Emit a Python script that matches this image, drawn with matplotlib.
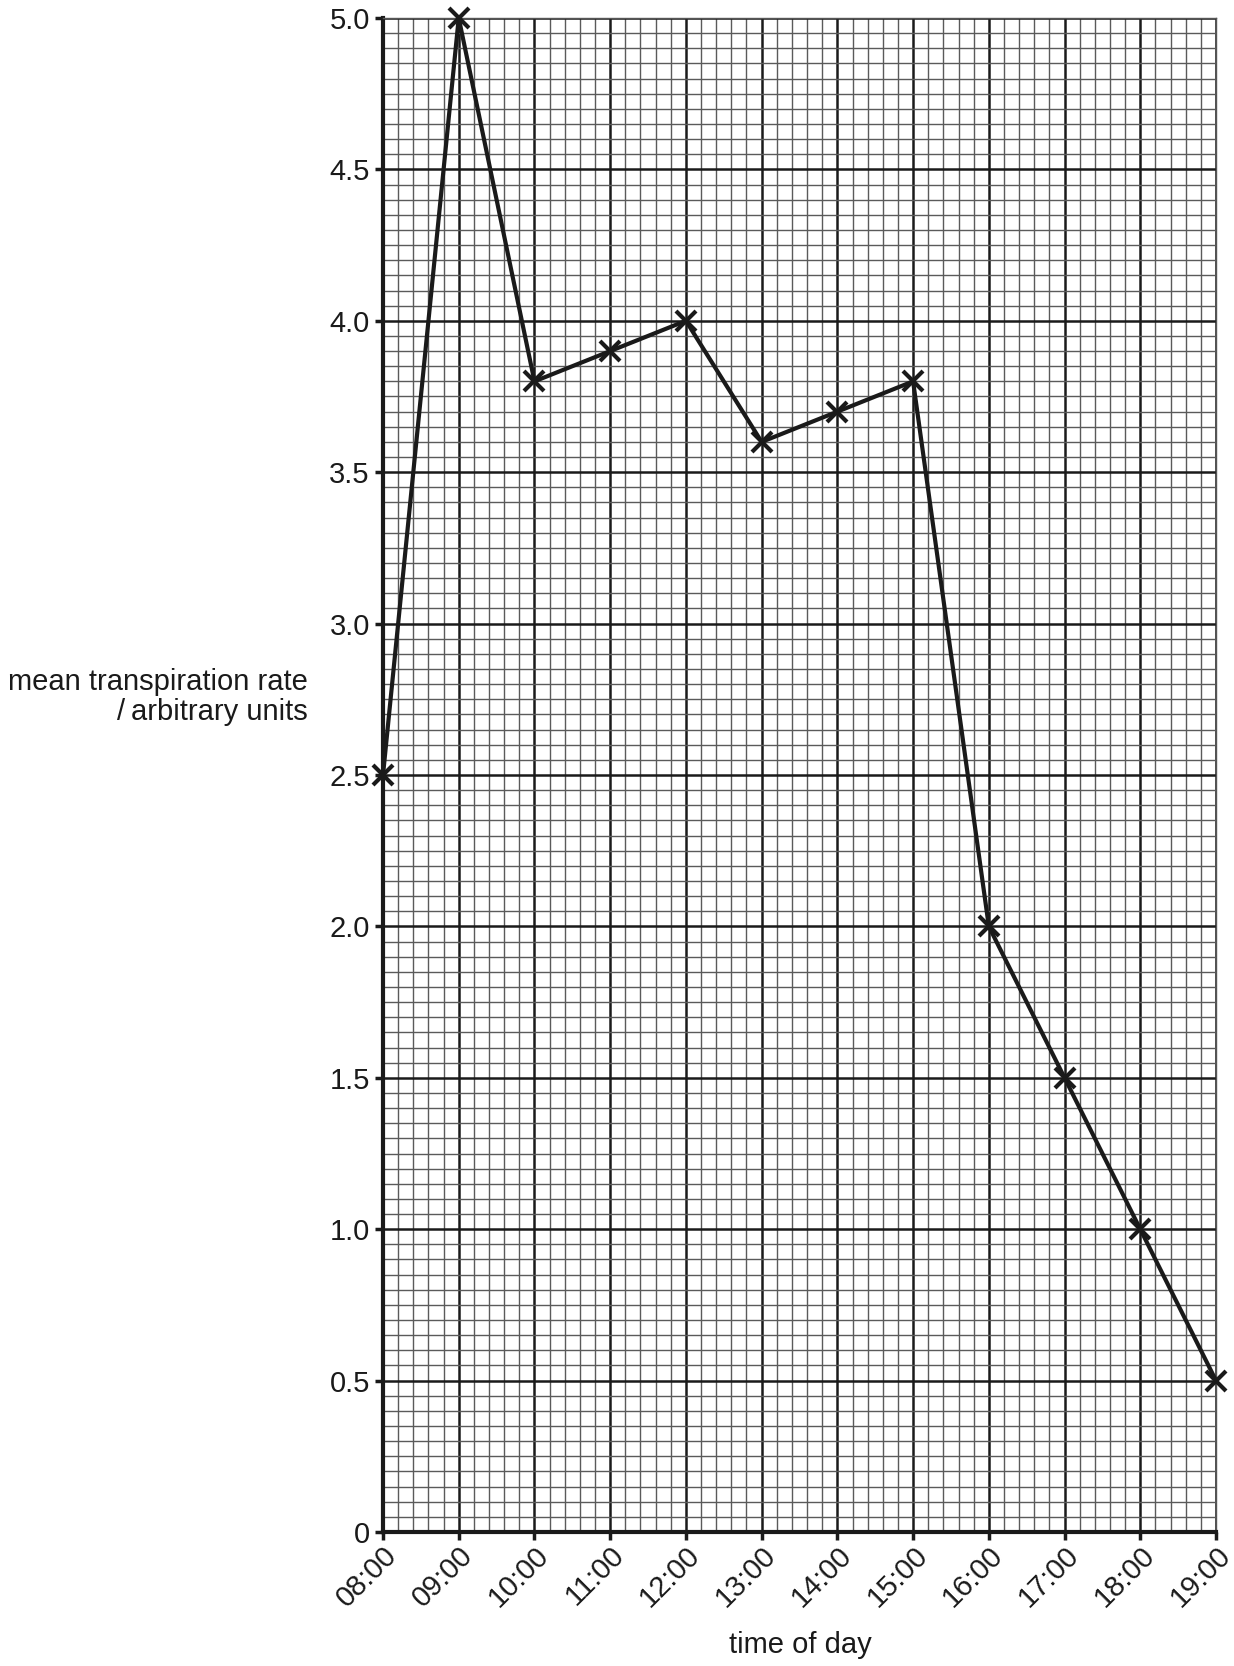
import matplotlib
matplotlib.use("Agg")
import matplotlib.pyplot as plt
from matplotlib.ticker import MultipleLocator

plt.rcParams['font.family'] = ['Liberation Sans', 'DejaVu Sans']

# hours of day and readings
hours = [8, 9, 10, 11, 12, 13, 14, 15, 16, 17, 18, 19]
hour_labels = ["08:00", "09:00", "10:00", "11:00", "12:00", "13:00",
               "14:00", "15:00", "16:00", "17:00", "18:00", "19:00"]
rate = [2.5, 5.0, 3.8, 3.9, 4.0, 3.6, 3.7, 3.8, 2.0, 1.5, 1.0, 0.5]
y_ticks = [0, 0.5, 1.0, 1.5, 2.0, 2.5, 3.0, 3.5, 4.0, 4.5, 5.0]
y_labels = ["0", "0.5", "1.0", "1.5", "2.0", "2.5", "3.0", "3.5", "4.0", "4.5", "5.0"]

fs = 21

fig = plt.figure(figsize=(12.34, 16.66), dpi=100)
ax = fig.add_axes([383 / 1234, 1 - 1532 / 1666, (1216 - 383) / 1234, (1532 - 18) / 1666])

ax.set_xlim(8, 19)
ax.set_ylim(0, 5)

# graph paper grid
ax.xaxis.set_minor_locator(MultipleLocator(0.2))
ax.yaxis.set_minor_locator(MultipleLocator(0.05))
ax.grid(which='minor', color='#5a5a5a', linewidth=1.0)
ax.grid(which='major', color='#1a1a1a', linewidth=1.8)
ax.set_axisbelow(True)

ax.plot(hours, rate, color='#1a1a1a', linewidth=3, marker='x',
        markersize=14, markeredgewidth=3, clip_on=False, zorder=5)

ax.set_xticks(hours)
ax.set_xticklabels(hour_labels, rotation=45, ha='right', va='top',
                   rotation_mode='anchor')
ax.set_yticks(y_ticks)
ax.set_yticklabels(y_labels)

ax.tick_params(which='major', direction='out', length=5.5, width=2.5,
               labelsize=fs, color='#1a1a1a', labelcolor='#1a1a1a')
ax.tick_params(axis='y', pad=4)
ax.tick_params(axis='x', pad=1)
ax.tick_params(which='minor', length=0)

for side in ['left', 'bottom']:
    ax.spines[side].set_linewidth(3)
    ax.spines[side].set_color('#1a1a1a')
for side in ['right', 'top']:
    ax.spines[side].set_linewidth(1)
    ax.spines[side].set_color('#555555')

fig.text(308 / 1234, 1 - 690 / 1666, "mean transpiration rate",
         ha='right', va='baseline', fontsize=fs, color='#1a1a1a')
fig.text(308 / 1234, 1 - 720 / 1666, "/\u2009arbitrary units",
         ha='right', va='baseline', fontsize=fs, color='#1a1a1a')
fig.text(800 / 1234, 1 - 1653 / 1666, "time of day", ha='center', va='baseline',
         fontsize=fs, color='#1a1a1a')

fig.savefig("out.png", dpi=100)
